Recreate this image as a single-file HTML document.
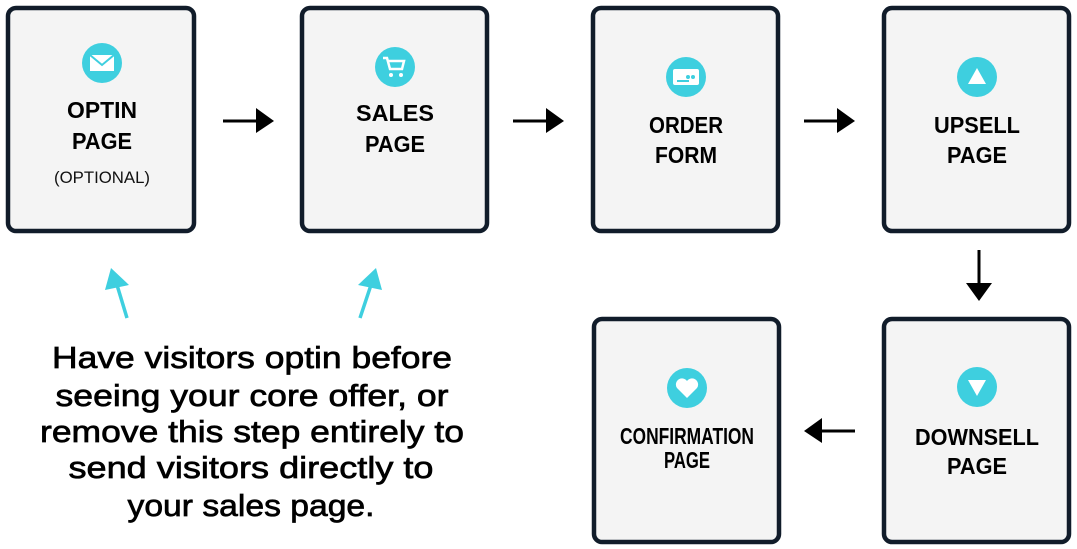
<!DOCTYPE html>
<html><head><meta charset="utf-8"><style>
html,body{margin:0;padding:0;background:#fff;width:1077px;height:549px;overflow:hidden}
svg text{font-family:"Liberation Sans",sans-serif}
.t{font-weight:bold;font-size:23px;fill:#000;text-anchor:middle}
.h{font-size:31px;fill:#000;stroke:#000;stroke-width:0.7;text-anchor:middle;font-family:"Liberation Sans",sans-serif}
</style></head><body>
<svg width="1077" height="549" viewBox="0 0 1077 549" xmlns="http://www.w3.org/2000/svg">
<g fill="#f4f4f4" stroke="#111c2a" stroke-width="4.5">
<rect x="8" y="8" width="186" height="223" rx="8"/>
<rect x="302" y="8" width="185" height="223" rx="8"/>
<rect x="593" y="8" width="185" height="223" rx="8"/>
<rect x="884" y="8" width="185" height="223" rx="8"/>
<rect x="594" y="319" width="185" height="223" rx="8"/>
<rect x="884" y="319" width="185" height="223" rx="8"/>
</g>
<g fill="#3ecfdf">
<circle cx="102" cy="63" r="20"/><circle cx="395" cy="67" r="20"/>
<circle cx="686" cy="77" r="20"/><circle cx="977" cy="77" r="20"/>
<circle cx="687" cy="388" r="20"/><circle cx="977" cy="387" r="20"/>
</g>
<rect x="90" y="55" width="24" height="16" fill="#fff"/>
<path d="M90 55 L102 65 L114 55" fill="none" stroke="#3ecfdf" stroke-width="2"/>
<path d="M383 58 h4 l3 11 h12 l2 -8 h-16" fill="none" stroke="#fff" stroke-width="2.5"/>
<circle cx="391" cy="75" r="2" fill="#fff"/><circle cx="401" cy="75" r="2" fill="#fff"/>
<rect x="673" y="69" width="26" height="16" rx="2" fill="#fff"/>
<circle cx="688" cy="77" r="2" fill="#3ecfdf"/><circle cx="693" cy="77" r="2" fill="#3ecfdf"/>
<rect x="677" y="80" width="12" height="2" fill="#3ecfdf"/>
<path d="M977 68 L986 84 L968 84 Z" fill="#fff"/>
<path d="M977 396 L986 380 L968 380 Z" fill="#fff"/>
<path d="M687 398 L677 388 A5 5 0 0 1 687 381 A5 5 0 0 1 697 388 Z" fill="#fff"/>
<text class="t" x="102" y="118" textLength="70" lengthAdjust="spacingAndGlyphs">OPTIN</text>
<text class="t" x="102" y="149" textLength="60" lengthAdjust="spacingAndGlyphs">PAGE</text>
<text x="102" y="183" text-anchor="middle" font-size="17" fill="#111" textLength="96" lengthAdjust="spacingAndGlyphs">(OPTIONAL)</text>
<text class="t" x="395" y="121" textLength="78" lengthAdjust="spacingAndGlyphs">SALES</text>
<text class="t" x="395" y="152" textLength="60" lengthAdjust="spacingAndGlyphs">PAGE</text>
<text class="t" x="686" y="133" textLength="74" lengthAdjust="spacingAndGlyphs">ORDER</text>
<text class="t" x="686" y="163" textLength="62" lengthAdjust="spacingAndGlyphs">FORM</text>
<text class="t" x="977" y="133" textLength="86" lengthAdjust="spacingAndGlyphs">UPSELL</text>
<text class="t" x="977" y="163" textLength="60" lengthAdjust="spacingAndGlyphs">PAGE</text>
<text class="t" x="687" y="444" font-size="19" textLength="134" lengthAdjust="spacingAndGlyphs">CONFIRMATION</text>
<text class="t" x="687" y="468" font-size="19" textLength="46" lengthAdjust="spacingAndGlyphs">PAGE</text>
<text class="t" x="977" y="445" textLength="124" lengthAdjust="spacingAndGlyphs">DOWNSELL</text>
<text class="t" x="977" y="474" textLength="60" lengthAdjust="spacingAndGlyphs">PAGE</text>
<g stroke="#000" stroke-width="3" fill="none">
<line x1="223" y1="121" x2="258" y2="121"/>
<line x1="513" y1="121" x2="548" y2="121"/>
<line x1="804" y1="121" x2="839" y2="121"/>
<line x1="979" y1="250" x2="979" y2="285"/>
<line x1="855" y1="431" x2="820" y2="431"/>
</g>
<g fill="#000">
<path d="M256 108 L274 121 L256 133 Z"/>
<path d="M546 108 L564 121 L546 133 Z"/>
<path d="M837 108 L855 121 L837 133 Z"/>
<path d="M966 283 L979 301 L992 283 Z"/>
<path d="M822 418 L804 431 L822 443 Z"/>
</g>
<g stroke="#3ecfdf" stroke-width="3.5">
<line x1="127" y1="318" x2="117" y2="285"/>
<line x1="360" y1="318" x2="371" y2="285"/>
</g>
<g fill="#3ecfdf">
<path d="M105 290 L111 268 L129 285 Z"/>
<path d="M358 285 L376 268 L382 290 Z"/>
</g>
<text class="h" x="252" y="368" textLength="400" lengthAdjust="spacingAndGlyphs">Have visitors optin before</text>
<text class="h" x="252" y="406" textLength="393" lengthAdjust="spacingAndGlyphs">seeing your core offer, or</text>
<text class="h" x="252" y="442" textLength="424" lengthAdjust="spacingAndGlyphs">remove this step entirely to</text>
<text class="h" x="251" y="478" textLength="365" lengthAdjust="spacingAndGlyphs">send visitors directly to</text>
<text class="h" x="251" y="516" textLength="247" lengthAdjust="spacingAndGlyphs">your sales page.</text>
</svg>
</body></html>
